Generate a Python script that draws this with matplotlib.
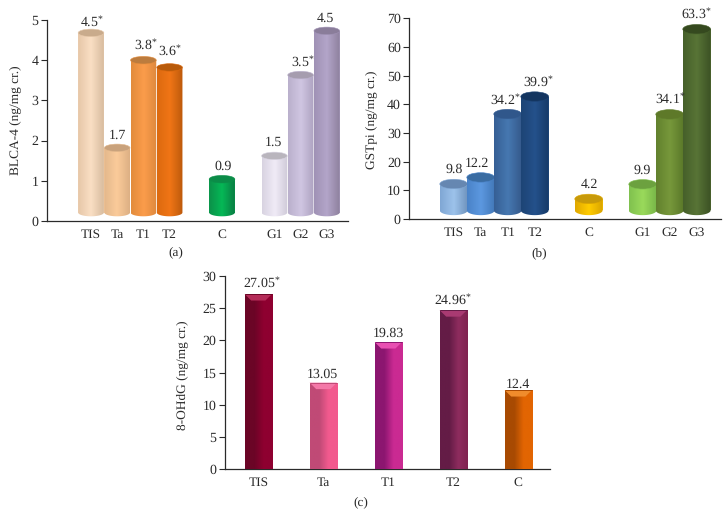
import numpy as np
import matplotlib
matplotlib.use("Agg")
import matplotlib.pyplot as plt
from matplotlib.colors import LinearSegmentedColormap
from matplotlib.patches import Ellipse, PathPatch, Polygon
from matplotlib.path import Path

plt.rcParams['font.family'] = ['Liberation Serif', 'DejaVu Serif']
plt.rcParams['mathtext.fontset'] = 'custom'
plt.rcParams['mathtext.rm'] = 'Liberation Serif'
plt.rcParams['mathtext.it'] = 'Liberation Serif'
plt.rcParams['mathtext.default'] = 'rm'
plt.rcParams['text.hinting'] = 'no_hinting'

W, H = 726, 528
FS = 9.6
INK = '#2a2a2a'

# ---------- data ----------
# printed value labels and the drawn bar tops, which sit slightly above the printed values
a_cats = ['TIS', 'Ta', 'T1', 'T2', 'C', 'G1', 'G2', 'G3']
a_vals = ['4.5', '1.7', '3.8', '3.6', '0.9', '1.5', '3.5', '4.5']
a_tops = [4.68, 1.82, 4.0, 3.82, 1.04, 1.62, 3.63, 4.73]
a_star = [True, False, True, True, False, False, True, False]
a_ticks = [0, 1, 2, 3, 4, 5]

b_cats = ['TIS', 'Ta', 'T1', 'T2', 'C', 'G1', 'G2', 'G3']
b_vals = ['9.8', '12.2', '34.2', '39.9', '4.2', '9.9', '34.1', '63.3']
b_tops = [12.2, 14.5, 36.6, 42.7, 7.0, 12.1, 36.5, 66.2]
b_star = [False, False, True, True, False, False, True, True]
b_ticks = [0, 10, 20, 30, 40, 50, 60, 70]

c_cats = ['TIS', 'Ta', 'T1', 'T2', 'C']
c_vals = ['27.05', '13.05', '19.83', '24.96', '12.4']
c_tops = [27.2, 13.45, 19.75, 24.7, 12.3]
c_star = [True, False, False, True, False]
c_ticks = [0, 5, 10, 15, 20, 25, 30]

# ---------- category slots ----------
a_pos = [0, 1, 2, 3, 5, 7, 8, 9]
b_pos = [0, 1, 2, 3, 5, 7, 8, 9]
c_pos = [0, 1, 2, 3, 4]

# ---------- label placement in pixels relative to the bar top ----------
a_gap = [10.3, 13.7, 15.0, 15.6, 13.3, 14.7, 12.7, 13.7]
a_dx = [0.7, -0.2, 2.3, 0.7, 0.7, -1.0, 2.4, -1.8]
b_gap = [15.7, 14.7, 14.0, 14.3, 15.0, 15.3, 15.0, 15.3]
b_dx = [0.3, -3.3, -2.3, 3.3, 1.0, -0.3, 0.7, -0.3]
c_gap = [10.7, 9.3, 9.7, 9.3, 6.7]
c_dx = [3.3, -1.0, 0.0, -0.7, -0.3]

# ---------- colours: (left, centre, right, top) ----------
a_cols = [('#E6C7A8', '#FADFC4', '#D8BC9F', '#C9AB8C'),
          ('#E3B88C', '#FBCB9A', '#DDB084', '#C9A27C'),
          ('#E28C3C', '#FB9C4B', '#DE893E', '#BC7C3E'),
          ('#DC6A10', '#F07516', '#BC5A0C', '#B85A0A'),
          ('#0C9049', '#05B856', '#0A7E44', '#0B8C48'),
          ('#D8D3E1', '#F0EBF7', '#CFCAD8', '#B9B5BD'),
          ('#BAB0CC', '#D0C6E2', '#AEA3C1', '#A69DAF'),
          ('#A092B5', '#B3A5C9', '#8E819E', '#8A7D9A')]
b_cols = [('#80A7D4', '#9DC3EB', '#6F93BD', '#6687B1'),
          ('#4A83C8', '#5C98E0', '#4278B8', '#3A6CA2'),
          ('#365F95', '#4678B1', '#35598B', '#30578B'),
          ('#1D4475', '#24518B', '#163A68', '#133560'),
          ('#E0A800', '#FFCC00', '#D9A400', '#C79A0A'),
          ('#80C14F', '#9ADA5B', '#77B548', '#6CA13F'),
          ('#62812E', '#77983B', '#5A7829', '#5E7929'),
          ('#46602A', '#587436', '#3C5225', '#35491F')]
c_cols = [('#6B0526', '#8E0030', '#8E0030', '#B42C58'),
          ('#C04A76', '#F25A8E', '#F25A8E', '#F478A8'),
          ('#8C1670', '#CA2A92', '#CA2A92', '#E850B2'),
          ('#641C46', '#8E2C5E', '#802250', '#A93A72'),
          ('#A84A02', '#E26502', '#E26502', '#F08C2C')]


def make_axes(left, right, top, bottom, ymax, x0_px, step_px):
    ax = fig.add_axes([left / W, 1 - bottom / H, (right - left) / W, (bottom - top) / H])
    ax.set_xlim((left - x0_px) / step_px, (right - x0_px) / step_px)
    ax.set_ylim(0, ymax)
    ax.patch.set_alpha(0)
    for s in ('top', 'right'):
        ax.spines[s].set_visible(False)
    for s in ('left', 'bottom'):
        ax.spines[s].set_linewidth(0.9)
        ax.spines[s].set_color(INK)
    ax.tick_params(axis='y', length=4.2, width=0.8, color=INK, labelsize=FS + 0.4,
                   labelcolor=INK, pad=2)
    ax.tick_params(axis='x', length=0, labelsize=FS, labelcolor=INK, pad=5.5)
    return ax


def gradient(ax, x0, x1, y0, y1, stops, clip, z):
    cmap = LinearSegmentedColormap.from_list('g', stops)
    img = ax.imshow(np.linspace(0, 1, 64)[None, :], extent=(x0, x1, y0, y1), cmap=cmap,
                    aspect='auto', origin='lower', zorder=z, interpolation='bilinear')
    img.set_clip_path(clip)


def label(ax, x, y, text, star, dx, gap):
    s = text + (r'$^{*}$' if star else '')
    ax.annotate(s, (x, y), xytext=(dx * 0.72, (gap - 4.3) * 0.72), textcoords='offset points',
                ha='center', va='baseline', fontsize=FS + 0.4, color=INK, zorder=20)


def cylinders(ax, pos, tops, cols, texts, stars, gaps, dxs, width, base, depth_px, px_per_unit):
    depth = depth_px / px_per_unit
    for i, (p, top, c) in enumerate(zip(pos, tops, cols)):
        x0, x1 = p - width / 2, p + width / 2
        ax.bar(p, top - base, width, bottom=base, color=c[1], linewidth=0, zorder=3 + i)
        t = np.linspace(np.pi, 2 * np.pi, 30)
        xs = p + width / 2 * np.cos(t)
        ys = base + depth / 2 * np.sin(t)
        verts = [(x0, top)] + list(zip(xs, ys)) + [(x1, top), (x0, top)]
        clip = PathPatch(Path(verts), transform=ax.transData, facecolor='none', edgecolor='none')
        ax.add_patch(clip)
        gradient(ax, x0, x1, base - depth, top, [c[0], c[1], c[2]], clip, 3 + i + 0.1)
        ax.add_patch(Ellipse((p, top), width, depth, facecolor=c[3], edgecolor=c[0],
                             linewidth=0.4, zorder=3 + i + 0.2))
        label(ax, p, top, texts[i], stars[i], dxs[i], gaps[i])


def prisms(ax, pos, tops, cols, texts, stars, gaps, dxs, width, depth_px, px_per_unit):
    depth = depth_px / px_per_unit
    inset = width * 0.24
    for i, (p, v, c) in enumerate(zip(pos, tops, cols)):
        x0, x1 = p - width / 2, p + width / 2
        bars = ax.bar(p, v, width, color=c[1], edgecolor='#E8B9CC', linewidth=0.5, zorder=3)
        gradient(ax, x0, x1, 0, v, [c[0], c[0], c[1], c[2]], bars[0], 3.1)
        ax.add_patch(Polygon([(x0, v), (x1, v), (x1 - inset, v - depth), (x0 + inset, v - depth)],
                             closed=True, facecolor=c[3], edgecolor='none', zorder=3.2))
        ax.plot([x0, x1], [v, v], color=c[0], lw=0.7, zorder=3.3, solid_capstyle='butt')
        label(ax, p, v, texts[i], stars[i], dxs[i], gaps[i])


fig = plt.figure(figsize=(W / 100, H / 100), dpi=100, facecolor='white')

# panel (a)
ax = make_axes(47, 348, 20, 221, 5, 91, 26.2)
cylinders(ax, a_pos, a_tops, a_cols, a_vals, a_star, a_gap, a_dx, 0.98, 0.21, 7.5, 201 / 5)
ax.set_xticks(a_pos, a_cats)
ax.set_yticks(a_ticks)
fig.text(15 / W, 1 - 120 / H, 'BLCA-4 (ng/mg cr.)', rotation=90, ha='center', va='center',
         fontsize=FS, color=INK)
fig.text(176 / W, 1 - 252 / H, '(a)', ha='center', va='center', fontsize=FS, color=INK)

# panel (b)
ax = make_axes(409.5, 721, 18.3, 219, 70, 453.7, 27)
cylinders(ax, b_pos, b_tops, b_cols, b_vals, b_star, b_gap, b_dx, 1.03, 3.0, 9.5, 200.7 / 70)
ax.set_xticks(b_pos, b_cats)
ax.set_yticks(b_ticks)
fig.text(371 / W, 1 - 120 / H, 'GSTpi (ng/mg cr.)', rotation=90, ha='center', va='center',
         fontsize=FS, color=INK)
fig.text(539 / W, 1 - 253 / H, '(b)', ha='center', va='center', fontsize=FS, color=INK)

# panel (c)
ax = make_axes(225, 550, 276, 469.3, 30, 258.3, 65)
prisms(ax, c_pos, c_tops, c_cols, c_vals, c_star, c_gap, c_dx, 0.42, 6.5, 193.3 / 30)
ax.set_xticks(c_pos, c_cats)
ax.set_yticks(c_ticks)
fig.text(182 / W, 1 - 375 / H, '8-OHdG (ng/mg cr.)', rotation=90, ha='center', va='center',
         fontsize=FS, color=INK)
fig.text(361 / W, 1 - 502 / H, '(c)', ha='center', va='center', fontsize=FS, color=INK)

fig.savefig('out.png', dpi=100)
